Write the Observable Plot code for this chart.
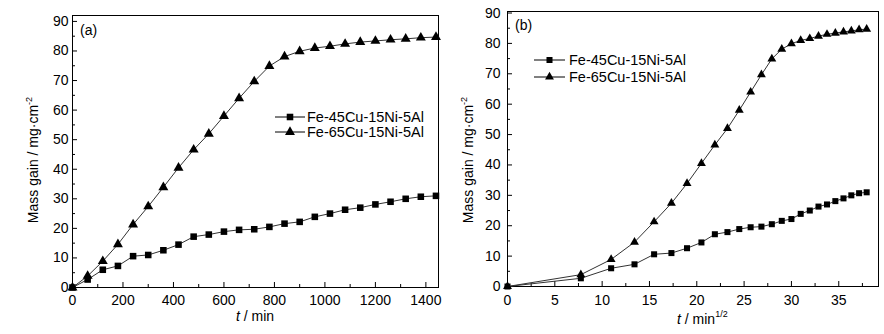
<!DOCTYPE html>
<html>
<head>
<meta charset="utf-8">
<script src="https://cdn.jsdelivr.net/npm/d3@7"></script>
<script src="https://cdn.jsdelivr.net/npm/@observablehq/plot@0.6"></script>
<style>
  html, body { margin: 0; padding: 0; background: #fff; }
  #fig { display: flex; width: 884px; height: 334px; }
  svg { font-family: "Liberation Sans", Arial, sans-serif; }
</style>
</head>
<body>
<div id="fig"></div>
<script>
// ---- data ----
const seriesNames = ["Fe-45Cu-15Ni-5Al", "Fe-65Cu-15Ni-5Al"];
const tMin = [0, 60, 120, 180, 240, 300, 360, 420, 480, 540, 600, 660, 720, 780, 840, 900, 960, 1020, 1080, 1140, 1200, 1260, 1320, 1380, 1440];
const tSqrt = [0, 7.75, 10.95, 13.42, 15.49, 17.32, 18.97, 20.49, 21.91, 23.24, 24.49, 25.69, 26.83, 27.93, 28.98, 30.0, 30.98, 31.94, 32.86, 33.76, 34.64, 35.5, 36.33, 37.15, 37.95];
const gain45 = [0, 2.7, 6.0, 7.3, 10.6, 11.0, 12.6, 14.5, 17.2, 17.9, 18.9, 19.5, 19.7, 20.5, 21.6, 22.2, 23.9, 25.0, 26.3, 27.0, 28.1, 29.0, 30.0, 30.7, 31.0];
const gain65 = [0, 3.9, 8.9, 14.6, 21.3, 27.4, 33.9, 40.5, 46.6, 52.0, 58.0, 64.0, 69.7, 74.9, 78.1, 79.9, 81.0, 81.6, 82.4, 83.0, 83.4, 83.8, 84.1, 84.5, 84.7];
const yTicks = [0, 10, 20, 30, 40, 50, 60, 70, 80, 90];
const yMinor = [5, 15, 25, 35, 45, 55, 65, 75, 85];
const xTicksA = [0, 200, 400, 600, 800, 1000, 1200, 1400];
const xMinorA = [100, 300, 500, 700, 900, 1100, 1300];
const xTicksB = [0, 5, 10, 15, 20, 25, 30, 35];
const xMinorB = [2.5, 7.5, 12.5, 17.5, 22.5, 27.5, 32.5, 37.5];

const FONT = '"Liberation Sans", Arial, sans-serif';
const symbols = ["square", "triangle"];

function rows(xs) {
  return [gain45, gain65].flatMap((ys, s) => xs.map((x, i) => ({x, y: ys[i], s: seriesNames[s]})));
}

function panel(cfg) {
  const data = rows(cfg.xs);
  const fmt = d => String(d);
  const marks = [
    Plot.frame({stroke: "#000", strokeWidth: 1}),
    Plot.axisX({ticks: cfg.xTicks, tickSize: -5, tickFormat: () => "", label: null}),
    Plot.axisX({ticks: cfg.xMinor, tickSize: -3, tickFormat: () => "", label: null}),
    Plot.axisX({ticks: cfg.xTicks, tickSize: 0, tickPadding: cfg.xPad, tickFormat: fmt, label: null, fontSize: 14}),
    Plot.axisY({ticks: yTicks, tickSize: -5, tickFormat: () => "", label: null}),
    Plot.axisY({ticks: yMinor, tickSize: -3, tickFormat: () => "", label: null}),
    Plot.axisY({ticks: yTicks, tickSize: 0, tickPadding: cfg.yPad, tickFormat: fmt, label: null, fontSize: 14}),
  ];
  seriesNames.forEach((name, k) => {
    const d = data.filter(r => r.s === name);
    marks.push(Plot.line(d, {x: "x", y: "y", stroke: "#333", strokeWidth: 1}));
    marks.push(Plot.dot(d, {x: "x", y: "y", symbol: () => symbols[k], r: k === 0 ? cfg.rSq : cfg.rTri, fill: "#000", stroke: "none"}));
  });
  const p = Plot.plot({
    width: cfg.width, height: 334,
    marginLeft: cfg.ml, marginRight: cfg.mr, marginTop: cfg.mt, marginBottom: cfg.mb,
    x: {domain: cfg.xDomain},
    y: {domain: cfg.yDomain},
    symbol: {domain: symbols, range: symbols},
    style: {fontFamily: FONT, fontSize: "14px", color: "#000", background: "#fff", overflow: "visible"},
    marks
  });
  const svg = d3.select(p);
  const g = svg.append("g").attr("text-anchor", "start").attr("font-family", FONT).attr("fill", "#000");
  // panel tag
  g.append("text").attr("x", cfg.tag[0]).attr("y", cfg.tag[1])
    .attr("font-size", 14).text(cfg.tagText);
  // legend
  seriesNames.forEach((name, k) => {
    const y = cfg.leg.y[k];
    g.append("line").attr("x1", cfg.leg.x1).attr("x2", cfg.leg.x2)
      .attr("y1", y).attr("y2", y).attr("stroke", "#000").attr("stroke-width", 1);
    const sym = k === 0 ? d3.symbolSquare : d3.symbolTriangle;
    const r = k === 0 ? cfg.rSq : cfg.rTri;
    g.append("path").attr("transform", `translate(${(cfg.leg.x1 + cfg.leg.x2) / 2},${y})`)
      .attr("d", d3.symbol(sym, Math.PI * r * r)()).attr("fill", "#000").attr("stroke", "none");
    g.append("text").attr("x", cfg.leg.tx).attr("y", y).attr("dy", "0.36em")
      .attr("font-size", 14.5).text(name);
  });
  // y label
  const yl = g.append("text").attr("transform", `translate(${cfg.ylab[0]},${cfg.ylab[1]}) rotate(-90)`)
    .attr("text-anchor", "middle").attr("font-size", 14);
  yl.append("tspan").text("Mass gain / mg·cm");
  yl.append("tspan").attr("font-size", 9).attr("dy", "-0.7em").text("-2");
  // x label
  const xl = g.append("text").attr("x", cfg.xlab[0]).attr("y", cfg.xlab[1])
    .attr("text-anchor", cfg.xlabAnchor).attr("font-size", 14);
  xl.append("tspan").attr("font-style", "italic").text("t");
  xl.append("tspan").text(" / min");
  if (cfg.sup) xl.append("tspan").attr("font-size", 9).attr("dy", "-0.8em").text(cfg.sup);
  return p;
}

const fig = document.getElementById("fig");
fig.append(panel({
  xs: tMin, width: 445, ml: 72, mr: 7, mt: 15, mb: 47,
  xDomain: [0, 1450], yDomain: [0, 92],
  xTicks: xTicksA, xMinor: xMinorA, xPad: 8, yPad: 4,
  rSq: 3.7, rTri: 3.7,
  tag: [80, 35], tagText: "(a)",
  leg: {x1: 275, x2: 305, tx: 307, y: [117, 132]},
  ylab: [38, 160], xlab: [255, 321], xlabAnchor: "middle", sup: null
}));
fig.append(panel({
  xs: tSqrt, width: 439, ml: 62, mr: 6, mt: 11, mb: 48,
  xDomain: [0, 39.2], yDomain: [0, 90.5],
  xTicks: xTicksB, xMinor: xMinorB, xPad: 9, yPad: 7,
  rSq: 3.4, rTri: 3.3,
  tag: [70, 30], tagText: "(b)",
  leg: {x1: 89, x2: 120, tx: 124, y: [60, 77]},
  ylab: [28, 160], xlab: [232, 324], xlabAnchor: "start", sup: "1/2"
}));
</script>
</body>
</html>
